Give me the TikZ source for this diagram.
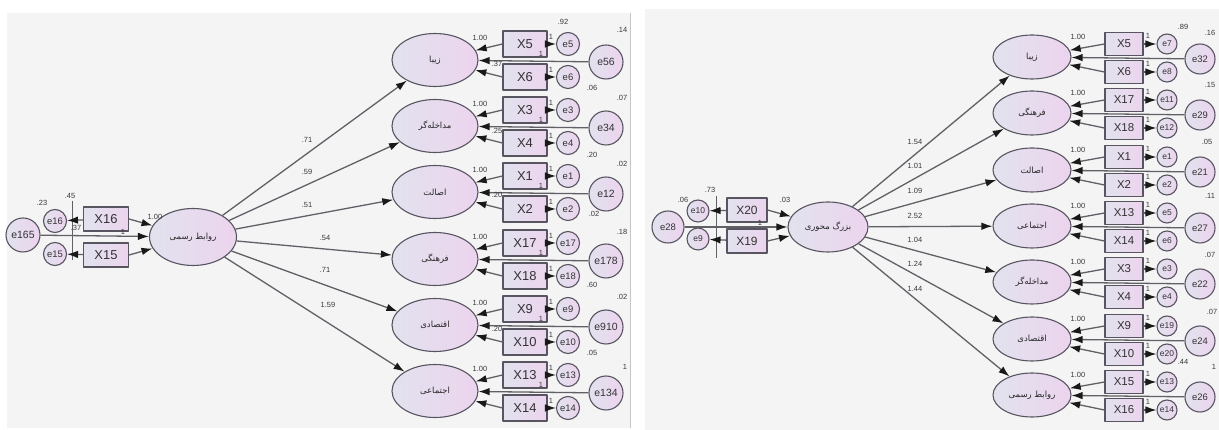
\documentclass[tikz,border=0pt]{standalone}
\usepackage{fontspec}
\setmainfont{Liberation Sans}
\newfontfamily\persianfont[Script=Arabic]{DejaVu Sans}
\TeXXeTstate=1
\usetikzlibrary{shapes.geometric,arrows.meta}
\definecolor{panelbg}{RGB}{244,244,245}
\definecolor{edgecol}{RGB}{88,84,96}
\definecolor{fillA}{RGB}{226,226,238}
\definecolor{fillB}{RGB}{236,212,238}
\definecolor{linecol}{RGB}{96,96,102}
\definecolor{numcol}{RGB}{55,55,60}
\begin{document}
\begin{tikzpicture}[>={Latex[length=11bp,width=7.5bp,color=black!90]},line join=bevel,
  lvbase/.style={ellipse,draw=edgecol,line width=1.1pt,left color=fillA,right color=fillB,inner sep=0pt,text=black!85,font=\fontsize{8.5}{9}\selectfont\persianfont},
  lvleft/.style={lvbase,minimum width=86bp,minimum height=53bp},
  lvright/.style={lvbase,minimum width=78bp,minimum height=44bp},
  lvmainL/.style={lvbase,minimum width=87bp,minimum height=57bp},
  lvmainR/.style={lvbase,minimum width=80bp,minimum height=50bp},
  obsbase/.style={rectangle,draw=edgecol,line width=1.1pt,left color=fillA,right color=fillB,inner sep=0pt,text=black!80},
  obsleft/.style={obsbase,minimum width=44bp,minimum height=26bp,font=\fontsize{13}{13}\selectfont},
  obsright/.style={obsbase,minimum width=38bp,minimum height=23bp,font=\fontsize{11.5}{12}\selectfont},
  obsinL/.style={obsbase,minimum width=45bp,minimum height=24bp,font=\fontsize{13}{13}\selectfont},
  obsinR/.style={obsbase,minimum width=40bp,minimum height=24bp,font=\fontsize{12}{12}\selectfont},
  errbase/.style={circle,draw=edgecol,line width=1.1pt,left color=fillA,right color=fillB,inner sep=0pt,text=black!80},
  errsmallL/.style={errbase,minimum size=23bp,font=\fontsize{9.5}{10}\selectfont},
  errsmallR/.style={errbase,minimum size=20bp,font=\fontsize{8.5}{9}\selectfont},
  errbigL/.style={errbase,minimum size=34bp,font=\fontsize{10.5}{11}\selectfont},
  errbigR/.style={errbase,minimum size=30bp,font=\fontsize{9.5}{10}\selectfont},
  coef/.style={inner sep=0pt,text=numcol,font=\fontsize{7.5}{8}\selectfont},
  conn/.style={draw=linecol,line width=1.3pt},
  tickln/.style={draw=linecol,line width=0.5pt},
]
\useasboundingbox (0bp,0bp) rectangle (1219bp,430bp);
\fill [panelbg] (7bp,2bp) rectangle (630bp,417bp);
\fill [panelbg] (645bp,0bp) rectangle (1219bp,421bp);
\draw [gray!45] (630bp,2bp) -- (630bp,417bp);
%% left model
\node (lv_Lm) at (193bp,193bp) [lvmainL] {\beginR روابط رسمی\endR};
  \node (e_L165) at (23bp,195bp) [errbigL] {e165};
  \node (e_L16) at (55bp,209bp) [errsmallL] {e16};
  \node (e_L15) at (55bp,176bp) [errsmallL] {e15};
  \node (x_L16) at (106bp,211bp) [obsinL] {X16};
  \node (x_L15) at (106bp,175bp) [obsinL] {X15};
  \coordinate (cov_La) at (72bp,229bp);
  \coordinate (cov_Lb) at (72bp,170bp);
  \node (lv_L1) at (435bp,370bp) [lvleft] {\beginR زیبا\endR};
  \node (x_L5) at (525bp,386bp) [obsleft] {X5};
  \node (x_L6) at (525bp,353bp) [obsleft] {X6};
  \node (e_L5) at (568bp,386bp) [errsmallL] {e5};
  \node (e_L6) at (568bp,353bp) [errsmallL] {e6};
  \node (e_L56) at (606bp,368bp) [errbigL] {e56};
  \node (lv_L2) at (435bp,304bp) [lvleft] {\beginR مداخله‌گر\endR};
  \node (x_L3) at (525bp,320bp) [obsleft] {X3};
  \node (x_L4) at (525bp,287bp) [obsleft] {X4};
  \node (e_L3) at (568bp,320bp) [errsmallL] {e3};
  \node (e_L4) at (568bp,287bp) [errsmallL] {e4};
  \node (e_L34) at (606bp,302bp) [errbigL] {e34};
  \node (lv_L3) at (435bp,238bp) [lvleft] {\beginR اصالت\endR};
  \node (x_L1) at (525bp,254bp) [obsleft] {X1};
  \node (x_L2) at (525bp,221bp) [obsleft] {X2};
  \node (e_L1) at (568bp,254bp) [errsmallL] {e1};
  \node (e_L2) at (568bp,221bp) [errsmallL] {e2};
  \node (e_L12) at (606bp,236bp) [errbigL] {e12};
  \node (lv_L4) at (435bp,171bp) [lvleft] {\beginR فرهنگی\endR};
  \node (x_L17) at (525bp,187bp) [obsleft] {X17};
  \node (x_L18) at (525bp,154bp) [obsleft] {X18};
  \node (e_L17) at (568bp,187bp) [errsmallL] {e17};
  \node (e_L18) at (568bp,154bp) [errsmallL] {e18};
  \node (e_L178) at (606bp,169bp) [errbigL] {e178};
  \node (lv_L5) at (435bp,105bp) [lvleft] {\beginR اقتصادی\endR};
  \node (x_L9) at (525bp,121bp) [obsleft] {X9};
  \node (x_L10) at (525bp,88bp) [obsleft] {X10};
  \node (e_L9) at (568bp,121bp) [errsmallL] {e9};
  \node (e_L10) at (568bp,88bp) [errsmallL] {e10};
  \node (e_L910) at (606bp,103bp) [errbigL] {e910};
  \node (lv_L6) at (435bp,39bp) [lvleft] {\beginR اجتماعی\endR};
  \node (x_L13) at (525bp,55bp) [obsleft] {X13};
  \node (x_L14) at (525bp,22bp) [obsleft] {X14};
  \node (e_L13) at (568bp,55bp) [errsmallL] {e13};
  \node (e_L14) at (568bp,22bp) [errsmallL] {e14};
  \node (e_L134) at (606bp,37bp) [errbigL] {e134};
%
  \draw [tickln] (cov_La) -- (cov_Lb);
  \draw [conn,->] (x_L16) -- (e_L16);
  \draw [conn,->] (x_L15) -- (e_L15);
  \draw [conn,->] (x_L16.east) -- (lv_Lm);
  \draw [conn,->] (x_L15.east) -- (lv_Lm);
  \draw [conn,->] (e_L165) -- (lv_Lm);
  \draw [conn,->] (lv_Lm) -- (lv_L1);
  \draw [conn,->] (lv_Lm) -- (lv_L2);
  \draw [conn,->] (lv_Lm) -- (lv_L3);
  \draw [conn,->] (lv_Lm) -- (lv_L4);
  \draw [conn,->] (lv_Lm) -- (lv_L5);
  \draw [conn,->] (lv_Lm) -- (lv_L6);
  \draw [conn,->] (x_L5.west) -- (lv_L1);
  \draw [conn,->] (x_L6.west) -- (lv_L1);
  \draw [conn,->] (x_L5) -- (e_L5);
  \draw [conn,->] (x_L6) -- (e_L6);
  \draw [conn,->] (e_L56) -- (lv_L1);
  \draw [conn,->] (x_L3.west) -- (lv_L2);
  \draw [conn,->] (x_L4.west) -- (lv_L2);
  \draw [conn,->] (x_L3) -- (e_L3);
  \draw [conn,->] (x_L4) -- (e_L4);
  \draw [conn,->] (e_L34) -- (lv_L2);
  \draw [conn,->] (x_L1.west) -- (lv_L3);
  \draw [conn,->] (x_L2.west) -- (lv_L3);
  \draw [conn,->] (x_L1) -- (e_L1);
  \draw [conn,->] (x_L2) -- (e_L2);
  \draw [conn,->] (e_L12) -- (lv_L3);
  \draw [conn,->] (x_L17.west) -- (lv_L4);
  \draw [conn,->] (x_L18.west) -- (lv_L4);
  \draw [conn,->] (x_L17) -- (e_L17);
  \draw [conn,->] (x_L18) -- (e_L18);
  \draw [conn,->] (e_L178) -- (lv_L4);
  \draw [conn,->] (x_L9.west) -- (lv_L5);
  \draw [conn,->] (x_L10.west) -- (lv_L5);
  \draw [conn,->] (x_L9) -- (e_L9);
  \draw [conn,->] (x_L10) -- (e_L10);
  \draw [conn,->] (e_L910) -- (lv_L5);
  \draw [conn,->] (x_L13.west) -- (lv_L6);
  \draw [conn,->] (x_L14.west) -- (lv_L6);
  \draw [conn,->] (x_L13) -- (e_L13);
  \draw [conn,->] (x_L14) -- (e_L14);
  \draw [conn,->] (e_L134) -- (lv_L6);
%
  \node (lab_L23) at (42bp,227bp) [coef] {.23};
  \node (lab_L45) at (70bp,234bp) [coef] {.45};
  \node (lab_L37) at (76bp,202bp) [coef] {.37};
  \node (lab_Lw1) at (155bp,213bp) [coef] {1.00};
  \node (lab_Lw2) at (123bp,198bp) [coef] {1};
  \node (lab_Lp1) at (307bp,290bp) [coef] {.71};
  \node (lab_Lp2) at (307bp,258bp) [coef] {.59};
  \node (lab_Lp3) at (307bp,225bp) [coef] {.51};
  \node (lab_Lp4) at (325bp,192bp) [coef] {.54};
  \node (lab_Lp5) at (325bp,160bp) [coef] {.71};
  \node (lab_Lp6) at (328bp,125bp) [coef] {1.59};
  \node (lab_L1a) at (480bp,392bp) [coef] {1.00};
  \node (lab_L1b) at (551bp,393bp) [coef] {1};
  \node (lab_L1c) at (551bp,360bp) [coef] {1};
  \node (lab_L1d) at (541bp,376bp) [coef] {1};
  \node (lab_L1e) at (497bp,366bp) [coef] {.37};
  \node (lab_L1f) at (563bp,408bp) [coef] {.92};
  \node (lab_L1g) at (622bp,400bp) [coef] {.14};
  \node (lab_L1h) at (592bp,342bp) [coef] {.06};
  \node (lab_L2a) at (480bp,326bp) [coef] {1.00};
  \node (lab_L2b) at (551bp,327bp) [coef] {1};
  \node (lab_L2c) at (551bp,294bp) [coef] {1};
  \node (lab_L2d) at (541bp,310bp) [coef] {1};
  \node (lab_L2e) at (497bp,299bp) [coef] {.25};
  \node (lab_L2g) at (622bp,332bp) [coef] {.07};
  \node (lab_L2h) at (592bp,275bp) [coef] {.20};
  \node (lab_L3a) at (480bp,260bp) [coef] {1.00};
  \node (lab_L3b) at (551bp,261bp) [coef] {1};
  \node (lab_L3c) at (551bp,228bp) [coef] {1};
  \node (lab_L3d) at (541bp,244bp) [coef] {1};
  \node (lab_L3e) at (497bp,235bp) [coef] {.20};
  \node (lab_L3g) at (622bp,266bp) [coef] {.02};
  \node (lab_L3h) at (594bp,216bp) [coef] {.02};
  \node (lab_L4a) at (480bp,193bp) [coef] {1.00};
  \node (lab_L4b) at (551bp,194bp) [coef] {1};
  \node (lab_L4c) at (551bp,161bp) [coef] {1};
  \node (lab_L4d) at (541bp,177bp) [coef] {1};
  \node (lab_L4g) at (622bp,198bp) [coef] {.18};
  \node (lab_L4h) at (592bp,145bp) [coef] {.60};
  \node (lab_L5a) at (480bp,127bp) [coef] {1.00};
  \node (lab_L5b) at (551bp,128bp) [coef] {1};
  \node (lab_L5c) at (551bp,95bp) [coef] {1};
  \node (lab_L5d) at (541bp,111bp) [coef] {1};
  \node (lab_L5e) at (497bp,101bp) [coef] {.20};
  \node (lab_L5g) at (622bp,133bp) [coef] {.02};
  \node (lab_L5h) at (592bp,77bp) [coef] {.05};
  \node (lab_L6a) at (480bp,61bp) [coef] {1.00};
  \node (lab_L6b) at (551bp,62bp) [coef] {1};
  \node (lab_L6c) at (551bp,29bp) [coef] {1};
  \node (lab_L6d) at (541bp,45bp) [coef] {1};
  \node (lab_L6g) at (625bp,63bp) [coef] {1};
%% right model
\node (lv_Rm) at (828bp,203bp) [lvmainR] {\beginR بزرگ محوری\endR};
  \node (e_R28) at (668bp,203bp) [errbigR,minimum size=32bp] {e28};
  \node (e_R10) at (698bp,219bp) [errsmallR,minimum size=22bp] {e10};
  \node (e_R9) at (698bp,191bp) [errsmallR,minimum size=22bp] {e9};
  \node (x_R20) at (747bp,220bp) [obsinR] {X20};
  \node (x_R19) at (747bp,189bp) [obsinR] {X19};
  \coordinate (cov_Ra) at (716bp,234bp);
  \coordinate (cov_Rb) at (716bp,172bp);
  \node (lv_R1) at (1032bp,373bp) [lvright] {\beginR زیبا\endR};
  \node (x_R5) at (1124bp,386bp) [obsright] {X5};
  \node (x_R6) at (1124bp,358bp) [obsright] {X6};
  \node (e_R7) at (1167bp,386bp) [errsmallR] {e7};
  \node (e_R8) at (1167bp,358bp) [errsmallR] {e8};
  \node (e_R32) at (1200bp,371bp) [errbigR] {e32};
  \node (lv_R2) at (1032bp,317bp) [lvright] {\beginR فرهنگی\endR};
  \node (x_R17) at (1124bp,330bp) [obsright] {X17};
  \node (x_R18) at (1124bp,302bp) [obsright] {X18};
  \node (e_R11) at (1167bp,330bp) [errsmallR] {e11};
  \node (e_R12) at (1167bp,302bp) [errsmallR] {e12};
  \node (e_R29) at (1200bp,315bp) [errbigR] {e29};
  \node (lv_R3) at (1032bp,260bp) [lvright] {\beginR اصالت\endR};
  \node (x_R1) at (1124bp,273bp) [obsright] {X1};
  \node (x_R2) at (1124bp,245bp) [obsright] {X2};
  \node (e_R1) at (1167bp,273bp) [errsmallR] {e1};
  \node (e_R2) at (1167bp,245bp) [errsmallR] {e2};
  \node (e_R21) at (1200bp,258bp) [errbigR] {e21};
  \node (lv_R4) at (1032bp,204bp) [lvright] {\beginR اجتماعی\endR};
  \node (x_R13) at (1124bp,217bp) [obsright] {X13};
  \node (x_R14) at (1124bp,189bp) [obsright] {X14};
  \node (e_R5) at (1167bp,217bp) [errsmallR] {e5};
  \node (e_R6) at (1167bp,189bp) [errsmallR] {e6};
  \node (e_R27) at (1200bp,202bp) [errbigR] {e27};
  \node (lv_R5) at (1032bp,148bp) [lvright] {\beginR مداخله‌گر\endR};
  \node (x_R3) at (1124bp,161bp) [obsright] {X3};
  \node (x_R4) at (1124bp,133bp) [obsright] {X4};
  \node (e_R3) at (1167bp,161bp) [errsmallR] {e3};
  \node (e_R4) at (1167bp,133bp) [errsmallR] {e4};
  \node (e_R22) at (1200bp,146bp) [errbigR] {e22};
  \node (lv_R6) at (1032bp,91bp) [lvright] {\beginR اقتصادی\endR};
  \node (x_R9) at (1124bp,104bp) [obsright] {X9};
  \node (x_R10) at (1124bp,76bp) [obsright] {X10};
  \node (e_R19) at (1167bp,104bp) [errsmallR] {e19};
  \node (e_R20) at (1167bp,76bp) [errsmallR] {e20};
  \node (e_R24) at (1200bp,89bp) [errbigR] {e24};
  \node (lv_R7) at (1032bp,35bp) [lvright] {\beginR روابط رسمی\endR};
  \node (x_R15) at (1124bp,48bp) [obsright] {X15};
  \node (x_R16) at (1124bp,20bp) [obsright] {X16};
  \node (e_R13) at (1167bp,48bp) [errsmallR] {e13};
  \node (e_R14) at (1167bp,20bp) [errsmallR] {e14};
  \node (e_R26) at (1200bp,33bp) [errbigR] {e26};
%
  \draw [tickln] (cov_Ra) -- (cov_Rb);
  \draw [conn,->] (x_R20) -- (e_R10);
  \draw [conn,->] (x_R19) -- (e_R9);
  \draw [conn,->] (x_R20.east) -- (lv_Rm);
  \draw [conn,->] (x_R19.east) -- (lv_Rm);
  \draw [conn,->] (e_R28) -- (lv_Rm);
  \draw [conn,->] (lv_Rm) -- (lv_R1);
  \draw [conn,->] (lv_Rm) -- (lv_R2);
  \draw [conn,->] (lv_Rm) -- (lv_R3);
  \draw [conn,->] (lv_Rm) -- (lv_R4);
  \draw [conn,->] (lv_Rm) -- (lv_R5);
  \draw [conn,->] (lv_Rm) -- (lv_R6);
  \draw [conn,->] (lv_Rm) -- (lv_R7);
  \draw [conn,->] (x_R5.west) -- (lv_R1);
  \draw [conn,->] (x_R6.west) -- (lv_R1);
  \draw [conn,->] (x_R5) -- (e_R7);
  \draw [conn,->] (x_R6) -- (e_R8);
  \draw [conn,->] (e_R32) -- (lv_R1);
  \draw [conn,->] (x_R17.west) -- (lv_R2);
  \draw [conn,->] (x_R18.west) -- (lv_R2);
  \draw [conn,->] (x_R17) -- (e_R11);
  \draw [conn,->] (x_R18) -- (e_R12);
  \draw [conn,->] (e_R29) -- (lv_R2);
  \draw [conn,->] (x_R1.west) -- (lv_R3);
  \draw [conn,->] (x_R2.west) -- (lv_R3);
  \draw [conn,->] (x_R1) -- (e_R1);
  \draw [conn,->] (x_R2) -- (e_R2);
  \draw [conn,->] (e_R21) -- (lv_R3);
  \draw [conn,->] (x_R13.west) -- (lv_R4);
  \draw [conn,->] (x_R14.west) -- (lv_R4);
  \draw [conn,->] (x_R13) -- (e_R5);
  \draw [conn,->] (x_R14) -- (e_R6);
  \draw [conn,->] (e_R27) -- (lv_R4);
  \draw [conn,->] (x_R3.west) -- (lv_R5);
  \draw [conn,->] (x_R4.west) -- (lv_R5);
  \draw [conn,->] (x_R3) -- (e_R3);
  \draw [conn,->] (x_R4) -- (e_R4);
  \draw [conn,->] (e_R22) -- (lv_R5);
  \draw [conn,->] (x_R9.west) -- (lv_R6);
  \draw [conn,->] (x_R10.west) -- (lv_R6);
  \draw [conn,->] (x_R9) -- (e_R19);
  \draw [conn,->] (x_R10) -- (e_R20);
  \draw [conn,->] (e_R24) -- (lv_R6);
  \draw [conn,->] (x_R15.west) -- (lv_R7);
  \draw [conn,->] (x_R16.west) -- (lv_R7);
  \draw [conn,->] (x_R15) -- (e_R13);
  \draw [conn,->] (x_R16) -- (e_R14);
  \draw [conn,->] (e_R26) -- (lv_R7);
%
  \node (lab_R06) at (683bp,230bp) [coef] {.06};
  \node (lab_R73) at (710bp,240bp) [coef] {.73};
  \node (lab_R03) at (785bp,230bp) [coef] {.03};
  \node (lab_Rw) at (760bp,207bp) [coef] {1};
  \node (lab_Rp1) at (915bp,288bp) [coef] {1.54};
  \node (lab_Rp2) at (915bp,264bp) [coef] {1.01};
  \node (lab_Rp3) at (915bp,239bp) [coef] {1.09};
  \node (lab_Rp4) at (915bp,214bp) [coef] {2.52};
  \node (lab_Rp5) at (915bp,190bp) [coef] {1.04};
  \node (lab_Rp6) at (915bp,166bp) [coef] {1.24};
  \node (lab_Rp7) at (915bp,141bp) [coef] {1.44};
  \node (lab_R1a) at (1078bp,393bp) [coef] {1.00};
  \node (lab_R1b) at (1148bp,394bp) [coef] {1};
  \node (lab_R1c) at (1148bp,366bp) [coef] {1};
  \node (lab_R1f) at (1183bp,403bp) [coef] {.89};
  \node (lab_R1g) at (1210bp,397bp) [coef] {.16};
  \node (lab_R2a) at (1078bp,337bp) [coef] {1.00};
  \node (lab_R2b) at (1148bp,338bp) [coef] {1};
  \node (lab_R2c) at (1148bp,310bp) [coef] {1};
  \node (lab_R2g) at (1210bp,345bp) [coef] {.15};
  \node (lab_R3a) at (1078bp,280bp) [coef] {1.00};
  \node (lab_R3b) at (1148bp,281bp) [coef] {1};
  \node (lab_R3c) at (1148bp,253bp) [coef] {1};
  \node (lab_R3g) at (1207bp,288bp) [coef] {.05};
  \node (lab_R4a) at (1078bp,224bp) [coef] {1.00};
  \node (lab_R4b) at (1148bp,225bp) [coef] {1};
  \node (lab_R4c) at (1148bp,197bp) [coef] {1};
  \node (lab_R4g) at (1210bp,234bp) [coef] {.11};
  \node (lab_R5a) at (1078bp,168bp) [coef] {1.00};
  \node (lab_R5b) at (1148bp,169bp) [coef] {1};
  \node (lab_R5c) at (1148bp,141bp) [coef] {1};
  \node (lab_R5g) at (1210bp,175bp) [coef] {.07};
  \node (lab_R6a) at (1078bp,111bp) [coef] {1.00};
  \node (lab_R6b) at (1148bp,112bp) [coef] {1};
  \node (lab_R6c) at (1148bp,84bp) [coef] {1};
  \node (lab_R6g) at (1212bp,118bp) [coef] {.07};
  \node (lab_R7a) at (1078bp,55bp) [coef] {1.00};
  \node (lab_R7b) at (1148bp,56bp) [coef] {1};
  \node (lab_R7c) at (1148bp,28bp) [coef] {1};
  \node (lab_R7f) at (1183bp,68bp) [coef] {.44};
  \node (lab_R7g) at (1214bp,63bp) [coef] {1};
%
\end{tikzpicture}
\end{document}
